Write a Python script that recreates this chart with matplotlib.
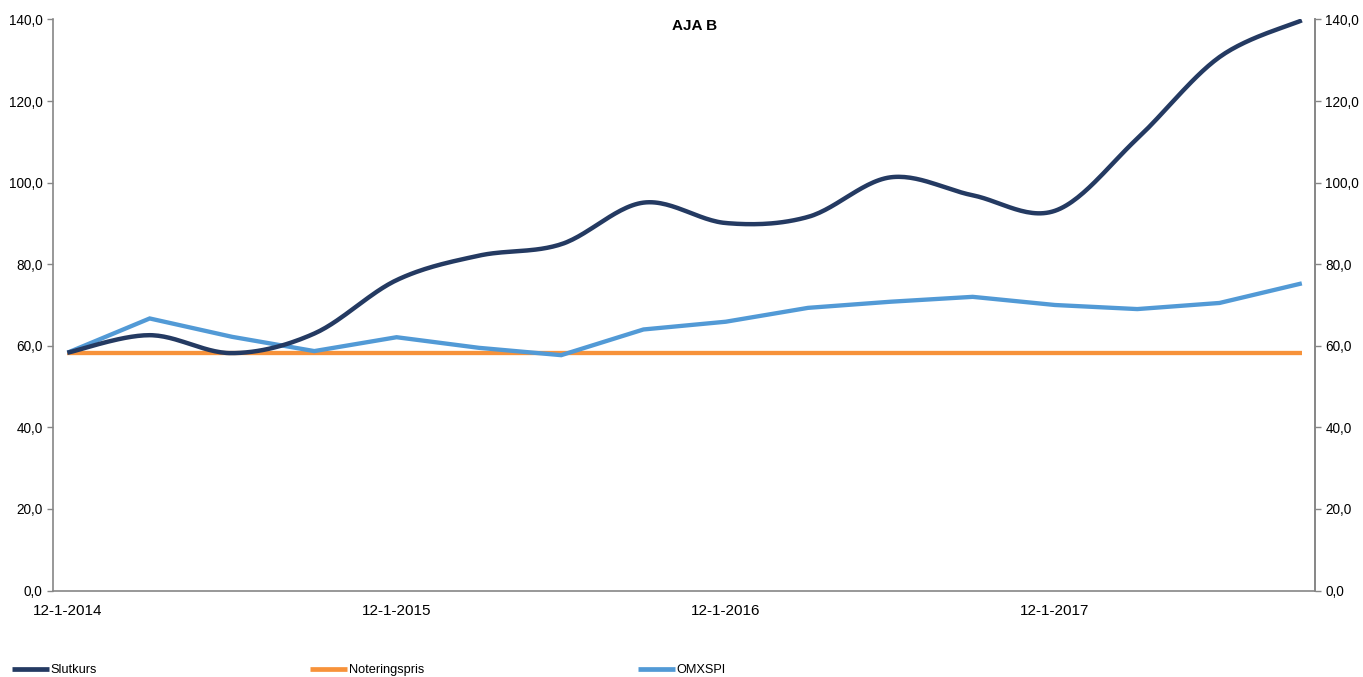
import numpy as np
import matplotlib
matplotlib.use("Agg")
import matplotlib.pyplot as plt
from matplotlib.ticker import FixedLocator, FuncFormatter

plt.rcParams['font.family'] = ['Liberation Sans', 'DejaVu Sans']

# ---- data (quarterly observations) ----
quarters = list(range(16))
tick_positions = [0, 4, 8, 12]
tick_labels = ["12-1-2014", "12-1-2015", "12-1-2016", "12-1-2017"]
slutkurs = [58.3, 62.6, 58.2, 63.0, 76.1, 82.1, 84.9, 95.1,
            90.1, 91.6, 101.3, 96.9, 93.1, 110.8, 130.8, 139.8]
noteringspris = [58.3] * 16
omxspi = [58.3, 66.7, 62.2, 58.7, 62.1, 59.5, 57.7, 64.0,
          65.9, 69.3, 70.8, 72.0, 70.0, 69.0, 70.5, 75.3]
title = "AJA B"
series_names = ["Slutkurs", "Noteringspris", "OMXSPI"]
colors = ["#243A62", "#F7923A", "#529AD6"]


def smooth(x, y, n=30):
    """Excel-like smoothed line: Catmull-Rom Bezier through the points."""
    x = np.asarray(x, float)
    y = np.asarray(y, float)
    P = np.column_stack([x, y])
    out = [P[0]]
    for i in range(len(P) - 1):
        p0 = P[i - 1] if i > 0 else P[i]
        p1 = P[i]
        p2 = P[i + 1]
        p3 = P[i + 2] if i + 2 < len(P) else P[i + 1]
        c1 = p1 + (p2 - p0) / 6.0
        c2 = p2 - (p3 - p1) / 6.0
        t = np.linspace(0, 1, n)[1:, None]
        seg = ((1 - t) ** 3) * p1 + 3 * ((1 - t) ** 2) * t * c1 + 3 * (1 - t) * t ** 2 * c2 + t ** 3 * p2
        out.extend(seg)
    out = np.array(out)
    return out[:, 0], out[:, 1]


W, H = 1363, 677
fig = plt.figure(figsize=(W / 100, H / 100), dpi=100)
ax = fig.add_axes([53 / W, 1 - 590.5 / H, (1315 - 53) / W, (590.5 - 19.5) / H])

sx, sy = smooth(quarters, slutkurs)
l1, = ax.plot(sx, sy, color=colors[0], lw=3.2, solid_capstyle='butt', zorder=3)
l2, = ax.plot(quarters, noteringspris, color=colors[1], lw=3.1, solid_capstyle='butt', zorder=2)
l3, = ax.plot(quarters, omxspi, color=colors[2], lw=3.1, solid_capstyle='butt',
              solid_joinstyle='miter', zorder=2)

ax.set_xlim(-0.175, 15.16)
ax.set_ylim(0, 140)
yt = np.arange(0, 141, 20)
fmt = FuncFormatter(lambda v, p: f"{v:.1f}".replace(".", ","))
ax.yaxis.set_major_locator(FixedLocator(yt))
ax.yaxis.set_major_formatter(fmt)
ax.xaxis.set_major_locator(FixedLocator(tick_positions))
ax.set_xticklabels(tick_labels)

spine_col = "#868686"
for s in ["top"]:
    ax.spines[s].set_visible(False)
for s in ["left", "right", "bottom"]:
    ax.spines[s].set_color(spine_col)
    ax.spines[s].set_linewidth(1.2)

ax.tick_params(axis='y', which='major', length=4, width=1, color=spine_col,
               labelsize=9.8, pad=3.5, labelcolor="#000000")
ax.tick_params(axis='x', which='major', length=0, labelsize=11, pad=10, labelcolor="#000000")

ax2 = ax.twinx()
ax2.set_ylim(0, 140)
ax2.yaxis.set_major_locator(FixedLocator(yt))
ax2.yaxis.set_major_formatter(fmt)
for s in ["top", "left", "bottom"]:
    ax2.spines[s].set_visible(False)
ax2.spines["right"].set_color(spine_col)
ax2.spines["right"].set_linewidth(1.2)
ax2.tick_params(axis='y', length=4, width=1, color=spine_col, labelsize=9.8, pad=3.5)

fig.text(695 / W, 1 - 26 / H, title, ha='center', va='center', fontsize=11, fontweight='bold')

leg = fig.legend([l1, l2, l3], series_names, loc='center left',
                 bbox_to_anchor=(12 / W, 1 - 670 / H), ncol=3, frameon=False,
                 fontsize=9.2, handlelength=2.9, handletextpad=0.12,
                 columnspacing=16.7, borderpad=0, borderaxespad=0)
for h in leg.get_lines():
    h.set_linewidth(3.4)

fig.savefig("out.png", dpi=100)
